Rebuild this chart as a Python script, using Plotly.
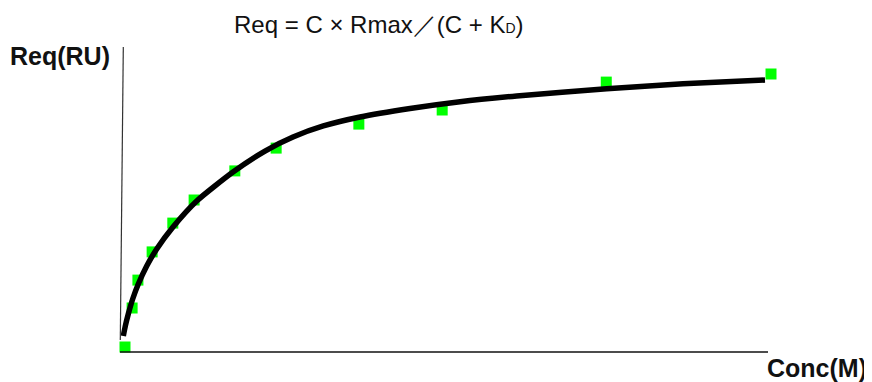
import plotly.graph_objects as go

# measured data points (concentration, response)
conc = [0, 1.1, 2.0, 4.2, 7.4, 10.7, 17.0, 23.4, 36.2, 49.1, 74.5, 100]
req = [0, 13, 22.3, 31.7, 41.3, 49, 58.7, 66.3, 74.3, 79, 88.3, 91]

# fitted curve
fit_x = [-0.26, 0.05, 0.51, 1.19, 2.06, 3.36, 4.91, 7.43, 11.10, 16.72, 21.67, 26.01,
         30.70, 36.38, 44.12, 51.86, 60.63, 74.57, 86.38, 99.07]
fit_y = [3.67, 7.0, 11.0, 16.0, 21.0, 27.0, 32.67, 40.0, 48.67, 58.33, 65.33, 70.0,
         73.67, 76.67, 79.5, 81.77, 83.67, 86.1, 87.73, 89.0]

title_text = "Req = C × Rmax／(C + K<span style=\"font-size:14px\">D</span>)"
y_label = "Req(RU)"
x_label = "Conc(M)"

# page has an 8px body margin
OX, OY = 8, 8
W, H = 864, 374
FONT = "Liberation Sans, Arial, sans-serif"

fig = go.Figure()
fig.add_trace(go.Scatter(x=conc, y=req, mode="markers",
                         marker=dict(symbol="square", size=11, color="#00ff00", line=dict(width=0)),
                         showlegend=False, cliponaxis=False))
fig.add_trace(go.Scatter(x=fit_x, y=fit_y, mode="lines",
                         line=dict(color="black", width=5.5, shape="spline", smoothing=0.6),
                         showlegend=False, cliponaxis=False))


def px(x):
    return (x - OX) / W


def py(y):
    return 1 - (y - OY) / H


shapes = [
    dict(type="line", xref="paper", yref="paper", x0=px(120), y0=py(352), x1=px(768), y1=py(352),
         line=dict(color="#111111", width=1.5)),
    dict(type="line", xref="paper", yref="paper", x0=px(123.3), y0=py(47), x1=px(120.3), y1=py(340),
         line=dict(color="#333333", width=1.2)),
]

annotations = [
    dict(text=title_text, xref="paper", yref="paper", x=px(378.5), y=py(25), xanchor="center", yanchor="middle",
         showarrow=False, font=dict(family=FONT, size=24, color="#111111")),
    dict(text="<b>" + y_label + "</b>", xref="paper", yref="paper", x=px(60), y=py(56), xanchor="center", yanchor="middle",
         showarrow=False, font=dict(family=FONT, size=25, color="#111111")),
    dict(text="<b>" + x_label + "</b>", xref="paper", yref="paper", x=px(817), y=py(368), xanchor="center", yanchor="middle",
         showarrow=False, font=dict(family=FONT, size=25, color="#111111")),
]

xscale = 6.46
yscale = 3.0
xmin = -(125 - OX) / xscale
xmax = xmin + W / xscale
ymax = (347 - OY) / yscale
ymin = ymax - H / yscale

fig.update_layout(
    width=W, height=H,
    margin=dict(l=0, r=0, t=0, b=0),
    paper_bgcolor="white", plot_bgcolor="white",
    xaxis=dict(range=[xmin, xmax], visible=False, fixedrange=True),
    yaxis=dict(range=[ymin, ymax], visible=False, fixedrange=True),
    shapes=shapes,
    annotations=annotations,
)

fig.write_html("out.html")
